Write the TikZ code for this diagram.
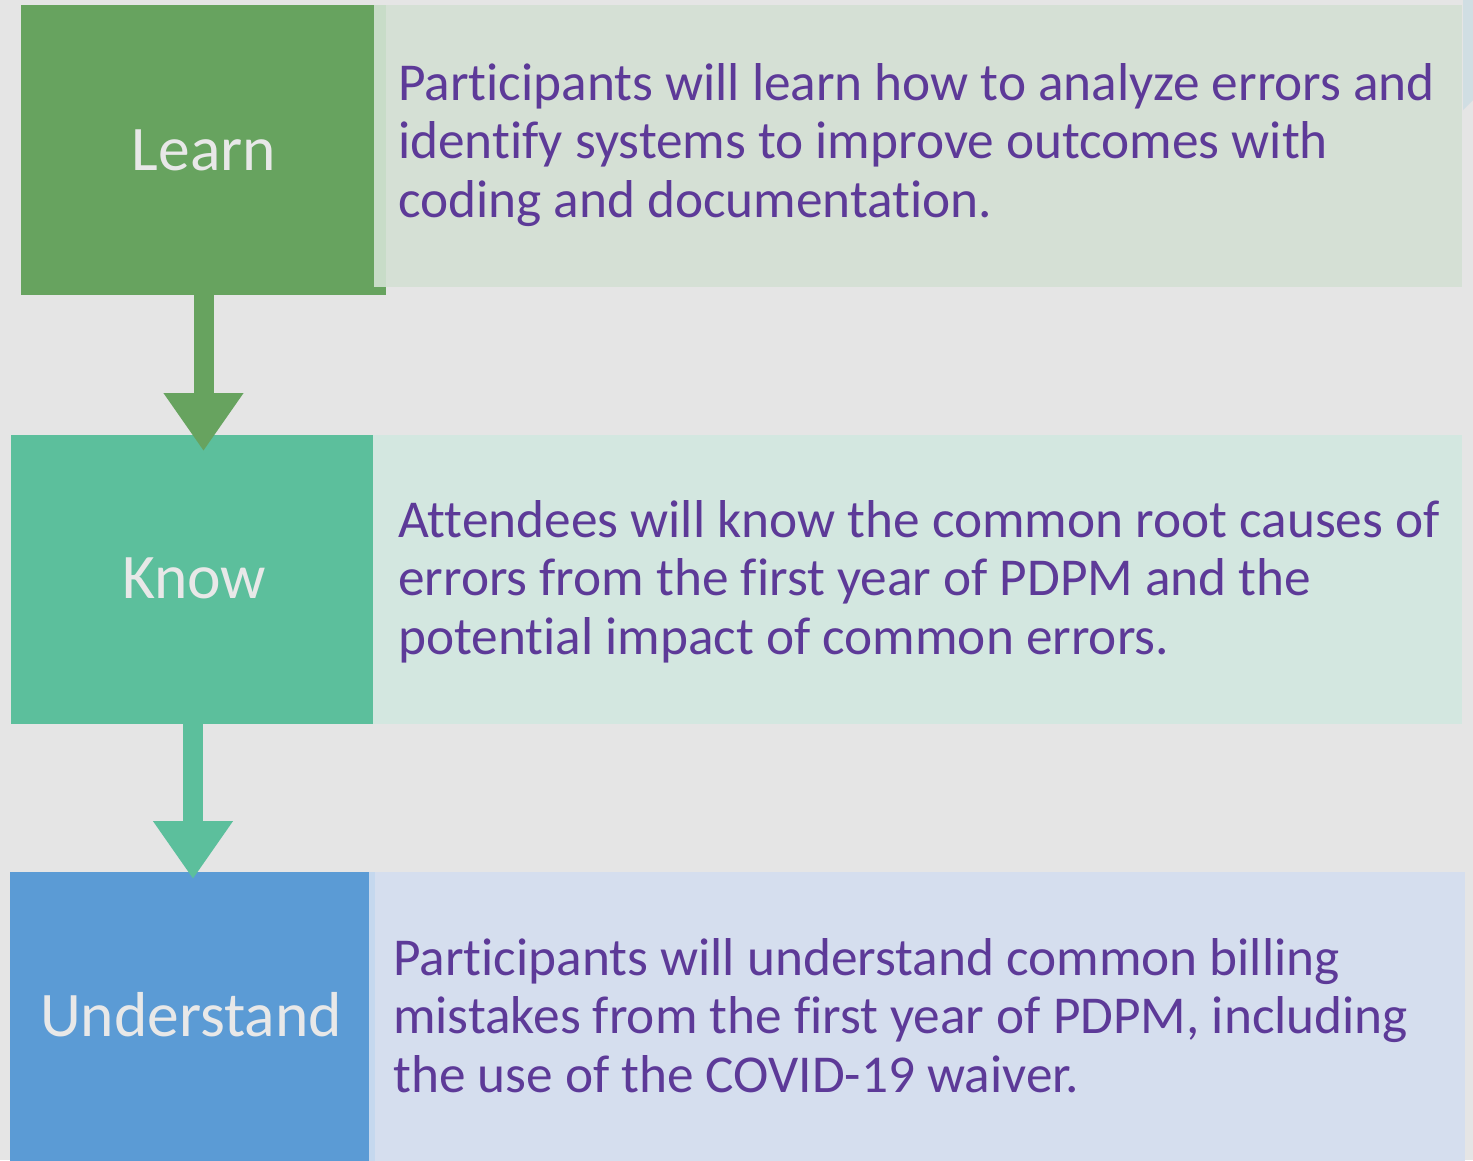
\documentclass[tikz,border=0pt]{standalone}
\usepackage{fontspec}
\setmainfont{Carlito}[Ligatures={NoCommon}]
\usetikzlibrary{arrows.meta}
\definecolor{bgc}{HTML}{E5E5E5}
\definecolor{learnc}{HTML}{67A35F}
\definecolor{learnp}{HTML}{D5E0D5}
\definecolor{learns}{HTML}{C8DCC8}
\definecolor{knowc}{HTML}{5CBF9C}
\definecolor{knowp}{HTML}{D3E7E0}
\definecolor{undc}{HTML}{5B9BD5}
\definecolor{undp}{HTML}{D5DEEE}
\definecolor{unds}{HTML}{C5D8EE}
\definecolor{purp}{HTML}{5D3A98}
\definecolor{labc}{HTML}{E8E8E8}
\definecolor{deco}{HTML}{D0DEE3}
\begin{document}
\begin{tikzpicture}[x=1pt,y=-1pt,
  box/.style={draw=none,inner sep=0pt,outer sep=0pt},
  lab/.style={text=labc,font=\fontsize{63.5}{63.5}\selectfont,inner sep=0pt,anchor=base},
  desc/.style={text=purp,font=\fontsize{53.3}{58.5}\selectfont,align=left,inner sep=0pt,anchor=base west},
  flow/.style={line width=20pt,-{Triangle[width=76pt,length=58pt]}}]
\useasboundingbox (0,0) rectangle (1473,1160);
\fill[bgc] (0,0) rectangle (1473,1160);
\begin{scope}
\clip (0,0) rectangle (1473,1160);
% decoration top right
\fill[deco] (1463,0) -- (1473,0) -- (1473,100) -- (1463,110) -- cycle;
% Learn
\node[box,fill=learnc,minimum width=365pt,minimum height=290pt,anchor=north west] (learn) at (21,5) {};
\fill[learns] (374,5) rectangle (386,287);
\node[box,fill=learnp,minimum width=1076pt,minimum height=282pt,anchor=north west] (learnpanel) at (386,5) {};
% Know
\node[box,fill=knowc,minimum width=362pt,minimum height=289pt,anchor=north west] (know) at (11,435) {};
\node[box,fill=knowp,minimum width=1089pt,minimum height=289pt,anchor=north west] (knowpanel) at (373,435) {};
% Understand
\node[box,fill=undc,minimum width=359pt,minimum height=300pt,anchor=north west] (und) at (10,872) {};
\fill[unds] (369,872) rectangle (375,1172);
\node[box,fill=undp,minimum width=1090pt,minimum height=300pt,anchor=north west] (undpanel) at (375,872) {};
% arrows
\draw[flow,learnc] (learn.south) -- ([yshift=-16pt]learn.south |- know.north);
\draw[flow,knowc] ([xshift=1pt]know.south) -- ([xshift=1pt,yshift=-7pt]know.south |- und.north);
\end{scope}
% labels
\node[lab] (tl) at (204,170) {Learn};
\node[lab] (tk) at (194,598) {Know};
\node[lab] (tu) at (191,1036) {Understand};
% descriptions (anchor = baseline of last line)
\node[desc] (dl) at (398,217) {Participants will learn how to analyze errors and\\identify systems to improve outcomes with\\coding and documentation.};
\node[desc] (dk) at (398,654) {Attendees will know the common root causes of\\errors from the first year of PDPM and the\\potential impact of common errors.};
\node[desc] (du) at (393,1092) {Participants will understand common billing\\mistakes from the first year of PDPM, including\\the use of the COVID-19 waiver.};
\end{tikzpicture}
\end{document}
